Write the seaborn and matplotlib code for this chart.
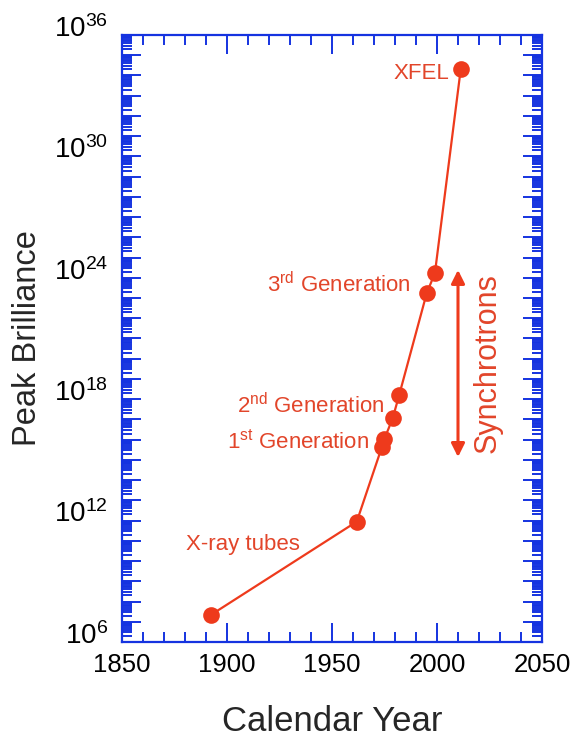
import numpy as np
import pandas as pd
import matplotlib
matplotlib.use("Agg")
import matplotlib.pyplot as plt
from matplotlib.ticker import FixedLocator, FuncFormatter, NullFormatter
from matplotlib.transforms import ScaledTranslation
import seaborn as sns

# ---- data ----
years = [1892.2, 1961.8, 1973.7, 1974.9, 1978.9, 1982.0, 1995.1, 1999.0, 2011.3]
log_brilliance = [7.33, 11.95, 15.62, 16.02, 17.06, 18.21, 23.24, 24.23, 34.31]
labels = ["X-ray tubes", "1$^{\\rm st}$ Generation", "2$^{\\rm nd}$ Generation",
          "3$^{\\rm rd}$ Generation", "XFEL"]
label_pos = [(1880.3, 10.8), (1967.5, 15.9), (1975.0, 17.7), (1987.5, 23.65), (2006, 34.1)]
arrow_x = 2010
arrow_range = (24.39, 15.14)
x_ticks = [1850, 1900, 1950, 2000, 2050]
y_label_exps = [6, 12, 18, 24, 30, 36]

sns.set_theme(style="white")
plt.rcParams['font.family'] = ['Liberation Sans', 'DejaVu Sans']
plt.rcParams['mathtext.fontset'] = 'custom'
plt.rcParams['mathtext.rm'] = 'Liberation Sans'
plt.rcParams['mathtext.it'] = 'Liberation Sans:italic'
plt.rcParams['mathtext.bf'] = 'Liberation Sans:bold'

RED = '#ee3a1c'
TXT = '#e2452a'
BLUE = '#1533e0'

df = pd.DataFrame({"year": years, "brill": [10.0 ** v for v in log_brilliance]})

fig = plt.figure(figsize=(5.71, 7.39), dpi=100)
ax = fig.add_axes([0.2137, 0.1313, 0.9492 - 0.2137, 0.9526 - 0.1313])

sns.lineplot(data=df, x="year", y="brill", ax=ax, color=RED, marker='o',
             markersize=12, markeredgewidth=0, linewidth=1.6, sort=False)

ax.set_yscale('log')
ax.set_xlim(1850, 2050)
ax.set_ylim(1e6, 1e36)

# y ticks
ax.yaxis.set_major_locator(FixedLocator([10.0 ** k for k in range(6, 37)]))
ax.yaxis.set_minor_locator(FixedLocator([m * 10.0 ** k for k in range(6, 36) for m in range(2, 10)]))
ax.yaxis.set_major_formatter(FuncFormatter(
    lambda v, p: (r'$10^{%d}$' % round(np.log10(v))) if round(np.log10(v)) in y_label_exps else ''))
ax.yaxis.set_minor_formatter(NullFormatter())

# x ticks
ax.xaxis.set_major_locator(FixedLocator(x_ticks))
ax.xaxis.set_minor_locator(FixedLocator(list(range(1850, 2051, 10))))

ax.tick_params(which='both', direction='in', top=True, right=True, left=True, bottom=True,
               color=BLUE, labelcolor='black')
ax.tick_params(which='major', length=14, width=1.4)
ax.tick_params(which='minor', length=7, width=1.4)
ax.tick_params(axis='y', which='major', pad=10, labelsize=20)
ax.tick_params(axis='x', which='major', pad=8, labelsize=18.5)

for s in ax.spines.values():
    s.set_visible(True)
    s.set_color(BLUE)
    s.set_linewidth(1.6)

ax.set_xlabel("Calendar Year", fontsize=25, labelpad=20)
ax.set_ylabel("Peak Brilliance", fontsize=23.5, labelpad=8)
ax.grid(False)

# shift y tick labels slightly upward as in the reference
offset = ScaledTranslation(0, 0.09, fig.dpi_scale_trans)
for t in ax.yaxis.get_major_ticks():
    t.label1.set_transform(t.label1.get_transform() + offset)

for txt, (lx, ly) in zip(labels, label_pos):
    ax.text(lx, 10.0 ** ly, txt, color=TXT, fontsize=16, ha='left' if txt == 'X-ray tubes' else 'right',
            va='center')

ax.annotate('', xy=(arrow_x, 10.0 ** arrow_range[1]), xytext=(arrow_x, 10.0 ** arrow_range[0]),
            arrowprops=dict(arrowstyle='<|-|>', color=RED, lw=2.2, mutation_scale=20,
                            shrinkA=0, shrinkB=0))
ax.text(2024, 10.0 ** ((arrow_range[0] + arrow_range[1]) / 2), "Synchrotrons", color=TXT,
        fontsize=22, rotation=90, ha='center', va='center')

fig.savefig("out.png", dpi=100)
